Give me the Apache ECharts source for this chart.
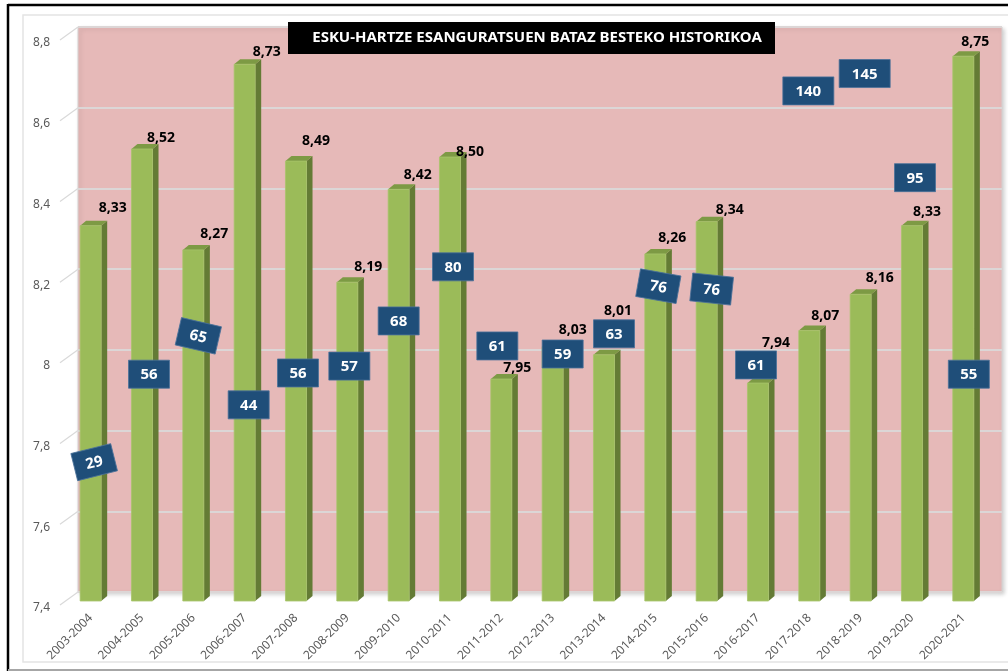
<!DOCTYPE html>
<html>
<head>
<meta charset="utf-8">
<script src="https://cdn.jsdelivr.net/npm/echarts@6/dist/echarts.min.js"></script>
<style>html,body{margin:0;padding:0;background:#fff;}#c{width:1008px;height:672px;}</style>
</head>
<body>
<div id="c"></div>
<script>
const titleText = 'ESKU-HARTZE ESANGURATSUEN BATAZ BESTEKO HISTORIKOA';
const categories = ['2003-2004','2004-2005','2005-2006','2006-2007','2007-2008','2008-2009','2009-2010','2010-2011','2011-2012','2012-2013','2013-2014','2014-2015','2015-2016','2016-2017','2017-2018','2018-2019','2019-2020','2020-2021'];
const averages = [8.33,8.52,8.27,8.73,8.49,8.19,8.42,8.50,7.95,8.03,8.01,8.26,8.34,7.94,8.07,8.16,8.33,8.75];
const counts = [29,56,65,44,56,57,68,80,61,59,63,76,76,61,140,145,95,55];
// value-label nudges (px) from bar top centre
const labelDx = [22,19,21,22,20,21,19,20,16,20,14,17,23,18,16,19,15,12];
const labelDy = [-18,-11,-16,-12,-20,-15,-14,-5,-11,-17,-44,-16,-12,-40,-15,-16,-14,-14];
// annotation box anchor level (axis units), horizontal nudge (px) and tilt (deg)
const boxLevel = [7.744,7.962,8.057,7.886,7.965,7.982,8.094,8.228,8.032,8.012,8.062,8.18,8.173,7.985,8.664,8.707,8.449,7.962];
const boxShift = [3.5,7,5,4,2,2,0,3,-4,10,10,3,5,-2,-1,4,3,5.5];
const boxTilt = [14,0,-13,0,0,0,0,0,0,0,0,-10,-6,0,0,0,0,0];
const yTicks = [7.4,7.6,7.8,8.0,8.2,8.4,8.6,8.8];
const Y_MIN = 7.4, Y_MAX = 8.8, Y_STEP = 0.2;

const fmt = v => v.toFixed(2).replace('.', ',');
const chart = echarts.init(document.getElementById('c'), null, {renderer: 'canvas'});

const option = {
  backgroundColor: '#ffffff',
  animation: false,
  graphic: [
    {type: 'rect', z: 0, shape: {x: 23, y: 15, width: 1000, height: 647}, style: {fill: 'none', stroke: '#e4e4e4', lineWidth: 1.5}},
    {type: 'line', z: 100, shape: {x1: 8, y1: 5, x2: 1008, y2: 5}, style: {stroke: '#000', lineWidth: 2.5}},
    {type: 'line', z: 100, shape: {x1: 8, y1: 4, x2: 8, y2: 671}, style: {stroke: '#000', lineWidth: 2.5}},
    {type: 'line', z: 100, shape: {x1: 8, y1: 670, x2: 1008, y2: 670}, style: {stroke: '#a6a6a6', lineWidth: 2}},
    {type: 'rect', z: 50, shape: {x: 288, y: 22, width: 487, height: 32}, style: {fill: '#000'}},
    {type: 'text', z: 51, x: 537, y: 38, style: {text: titleText, fill: '#fff', font: 'bold 15px "Noto Sans"', align: 'center', verticalAlign: 'middle'}}
  ],
  grid: [
    {left: 65, right: 19, top: 36, bottom: 71},
    {left: 78, right: 6, top: 27, bottom: 80, show: true, backgroundColor: '#E6B9B8', borderColor: '#d6d0d0', borderWidth: 1,
     shadowColor: 'rgba(0,0,0,0.18)', shadowBlur: 4, shadowOffsetX: 2, shadowOffsetY: 2, z: 0}
  ],
  xAxis: [
    {type: 'category', gridIndex: 0, data: categories, axisLine: {show: false}, axisTick: {show: false},
     axisLabel: {rotate: 45, margin: 15, interval: 0, color: '#595959', fontSize: 12, fontFamily: 'Noto Sans'}},
    {type: 'category', gridIndex: 1, data: categories, show: false}
  ],
  yAxis: [
    {type: 'value', gridIndex: 0, min: Y_MIN, max: Y_MAX, interval: Y_STEP, splitLine: {show: false},
     axisLine: {show: false}, axisTick: {show: false},
     axisLabel: {margin: 15, color: '#595959', fontSize: 12, fontFamily: 'Noto Sans', verticalAlign: 'top', lineHeight: 14,
       formatter: v => String(+v.toFixed(1)).replace('.', ',')}},
    {type: 'value', gridIndex: 1, min: Y_MIN, max: Y_MAX, interval: Y_STEP, axisLabel: {show: false},
     axisLine: {show: false}, axisTick: {show: false},
     splitLine: {show: true, lineStyle: {color: '#dcd6d6', width: 2}}}
  ],
  series: [
    {
      type: 'custom', xAxisIndex: 1, yAxisIndex: 1, z: 1, silent: true,
      data: yTicks.map(v => [0, v]),
      renderItem: (params, api) => {
        const p = api.coord([0, api.value(1)]);
        const x = params.coordSys.x;
        return {type: 'line', shape: {x1: x - 18, y1: p[1] + 13, x2: x, y2: p[1]}, style: {stroke: '#d9d9d9', lineWidth: 1.2}};
      }
    },
    {
      type: 'custom', xAxisIndex: 0, yAxisIndex: 0, z: 5, silent: true,
      data: averages.map((v, i) => [i, v]),
      renderItem: (params, api) => {
        const i = api.value(0), v = api.value(1);
        const top = api.coord([i, v]);
        const base = api.coord([i, Y_MIN]);
        const w = api.size([1, 0])[0] * 0.41;
        const x0 = top[0] - w / 2, x1 = top[0] + w / 2;
        const dx = 6, dy = -5;
        return {type: 'group', children: [
          {type: 'polygon', shape: {points: [[x1, top[1]], [x1 + dx, top[1] + dy], [x1 + dx, base[1] + dy], [x1, base[1]]]}, style: {fill: '#647B35'}},
          {type: 'polygon', shape: {points: [[x0, top[1]], [x0 + dx, top[1] + dy], [x1 + dx, top[1] + dy], [x1, top[1]]]}, style: {fill: '#7D9A44'}},
          {type: 'rect', shape: {x: x0, y: top[1], width: w, height: base[1] - top[1]}, style: {fill: '#9BBB59', stroke: '#a8c46c', lineWidth: 0.8}},
          {type: 'text', z2: 20, x: top[0] + labelDx[i], y: top[1] + labelDy[i], style: {text: fmt(v), fill: '#000', font: 'bold 14px "Noto Sans"', align: 'center', verticalAlign: 'middle'}}
        ]};
      }
    },
    {
      type: 'custom', xAxisIndex: 0, yAxisIndex: 0, z: 10, silent: true,
      data: counts.map((c, i) => [i, boxLevel[i], c]),
      renderItem: (params, api) => {
        const idx = params.dataIndex;
        const p = api.coord([api.value(0), api.value(1)]);
        const c = api.value(2);
        const w = c >= 100 ? 51 : 41, h = 28;
        return {type: 'group', x: p[0] + boxShift[idx], y: p[1], rotation: boxTilt[idx] * Math.PI / 180, children: [
          {type: 'rect', shape: {x: -w / 2, y: -h / 2, width: w, height: h}, style: {fill: '#1F4E79', stroke: '#4a7199', lineWidth: 0.8}},
          {type: 'text', x: 0, y: 1, style: {text: String(c), fill: '#fff', font: 'bold 15px "Noto Sans"', align: 'center', verticalAlign: 'middle'}}
        ]};
      }
    }
  ]
};
chart.setOption(option);
</script>
</body>
</html>
